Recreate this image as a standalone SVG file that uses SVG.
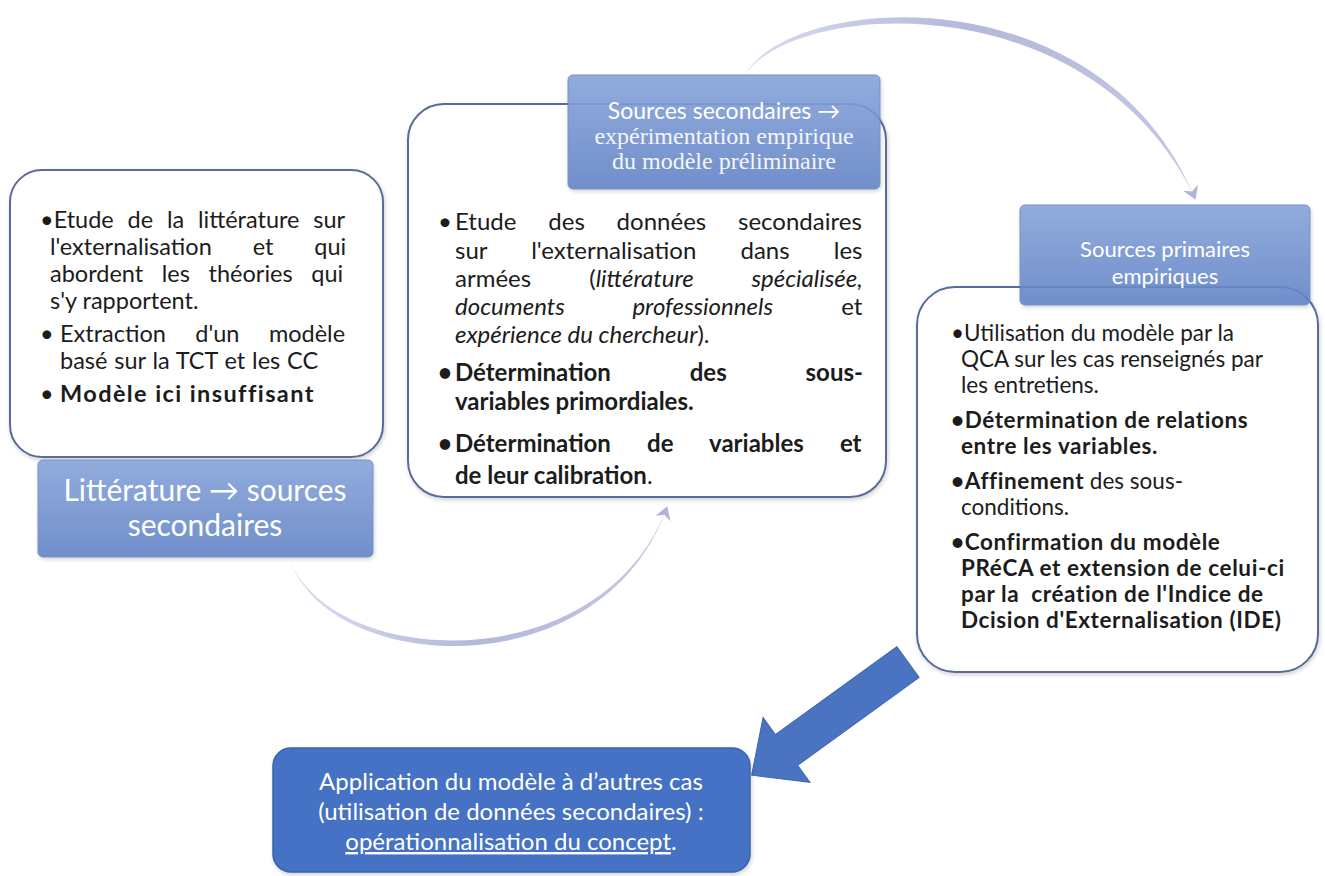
<svg xmlns="http://www.w3.org/2000/svg" width="1325" height="876" viewBox="0 0 1325 876">
<defs>
<linearGradient id="lbl" x1="0" y1="0" x2="0" y2="1">
<stop offset="0" stop-color="#86a3d9"/>
<stop offset="1" stop-color="#6283c6"/>
</linearGradient>
<linearGradient id="arcg" x1="0" y1="0" x2="1" y2="0">
<stop offset="0" stop-color="#d9dcef"/>
<stop offset="0.5" stop-color="#b4b8da"/>
<stop offset="1" stop-color="#c4c7e4"/>
</linearGradient>
<filter id="sh" x="-10%" y="-10%" width="120%" height="120%">
<feDropShadow dx="1" dy="2" stdDeviation="2" flood-color="#000" flood-opacity="0.18"/>
</filter>
<marker id="ah" markerWidth="20" markerHeight="20" refX="9" refY="10" orient="auto" markerUnits="userSpaceOnUse">
<path d="M0,2 L13,10 L0,18 L4,10 Z" fill="#b0b4d6"/>
</marker>
<style>
.box{fill:#fff;stroke:#5a6a9a;stroke-width:2;filter:url(#sh)}
.lbl{fill:url(#lbl);stroke:#6a86c2;stroke-width:1;opacity:0.9;filter:url(#sh)}
.t{font-family:Lato,"Liberation Sans",sans-serif;fill:#1c1c1c}
.lt{font-family:Lato,"Liberation Sans",sans-serif;fill:#fff;text-anchor:middle}
.sf{font-family:"Liberation Serif","DejaVu Serif",serif;fill:#f4f6fb;text-anchor:middle}
.b{font-weight:bold}
.i{font-style:italic}
.arc{fill:url(#arcg);stroke:none}
.guide{fill:none;stroke:none}
</style>
</defs>
<rect width="1325" height="876" fill="#fff"/>

<g id="connectors">
<path class="arc" d="M290,560 C330,675 600,690 666,510 C598,682 332,668 290,560 Z"/>
<path class="guide" d="M290,560 C330,675 600,690 666,510" marker-end="url(#ah)"/>
<path class="arc" d="M745,75 C790,-8 1100,-28 1194,196 C1090,-18 795,0 745,75 Z"/>
<path class="guide" d="M745,75 C790,-8 1100,-28 1194,196" marker-end="url(#ah)"/>
<polygon transform="translate(908,662) rotate(144.1)" points="0,-19 150,-19 150,-40 193,0 150,40 150,19 0,19" fill="#4a73c2" stroke="#3f66b0" stroke-width="1"/>
</g>

<g id="node-litterature">
<rect class="box" x="10" y="170" width="373" height="287" rx="32"/>
<g class="t" font-size="23.5">
<text x="40" y="228" word-spacing="7.8">•Etude de la littérature sur</text>
<text x="50" y="255" word-spacing="34.9">l'externalisation et qui</text>
<text x="50" y="282" word-spacing="12.6">abordent les théories qui</text>
<text x="50" y="309">s'y rapportent.</text>
<text x="40" y="342">•</text>
<text x="60" y="342" word-spacing="23.4">Extraction d'un modèle</text>
<text x="60" y="369" word-spacing="0.8">basé sur la TCT et les CC</text>
<text x="40" y="402">•</text>
<text x="60" y="402" class="b" letter-spacing="1.4">Modèle ici insuffisant</text>
</g>
<rect class="lbl" x="38" y="460" width="335" height="97" rx="5"/>
<text class="lt" x="205" y="501" font-size="30">Littérature  → sources</text>
<text class="lt" x="205" y="536" font-size="30">secondaires</text>
</g>

<g id="node-secondaires">
<rect class="box" x="408" y="104" width="478" height="393" rx="36"/>
<rect class="lbl" x="568" y="75" width="312" height="114" rx="5"/>
<text class="lt" x="724" y="119" font-size="23">Sources secondaires →</text>
<text class="sf" x="724" y="144" font-size="24">expérimentation empirique</text>
<text class="sf" x="724" y="169" font-size="24">du modèle préliminaire</text>
<g class="t" font-size="24">
<text x="438" y="230">•</text>
<text x="455" y="230" word-spacing="25.7">Etude des données secondaires</text>
<text x="455" y="259" word-spacing="38">sur l'externalisation dans les</text>
<text x="455" y="287" word-spacing="52">armées (<tspan class="i">littérature spécialisée,</tspan></text>
<text x="455" y="315" word-spacing="62"><tspan class="i">documents professionnels</tspan> et</text>
<text x="455" y="343"><tspan class="i">expérience du chercheur</tspan>).</text>
<text x="438" y="381" class="b">•</text>
<text x="455" y="381" class="b" word-spacing="73">Détermination des sous-</text>
<text x="455" y="410" class="b">variables primordiales.</text>
<text x="438" y="452" class="b">•</text>
<text x="455" y="452" class="b" word-spacing="30.3">Détermination de variables et</text>
<text x="455" y="484"><tspan class="b">de leur calibration</tspan>.</text>
</g>
</g>

<g id="node-primaires">
<rect class="box" x="917" y="287" width="401" height="385" rx="38"/>
<rect class="lbl" x="1020" y="205" width="290" height="100" rx="5"/>
<text class="lt" x="1165" y="257" font-size="22">Sources primaires</text>
<text class="lt" x="1165" y="284" font-size="22">empiriques</text>
<g class="t" font-size="22.5">
<text x="951" y="341">•Utilisation du modèle par la</text>
<text x="961" y="367">QCA sur les cas renseignés par</text>
<text x="961" y="393">les entretiens.</text>
<text x="951" y="428" class="b" letter-spacing="0.6">•Détermination de relations</text>
<text x="961" y="454" class="b" letter-spacing="0.6">entre les variables.</text>
<text x="951" y="489"><tspan class="b" letter-spacing="0.6">•Affinement</tspan> des sous-</text>
<text x="961" y="515">conditions.</text>
<text x="951" y="550" class="b" letter-spacing="0.6">•Confirmation du modèle</text>
<text x="961" y="576" class="b" letter-spacing="0.6">PRéCA et extension de celui-ci</text>
<text x="961" y="602" class="b" letter-spacing="0.6">par la&#160; création de l'Indice de</text>
<text x="961" y="628" class="b" letter-spacing="0.6">Dcision d'Externalisation (IDE)</text>
</g>
</g>

<g id="node-application">
<rect x="273" y="748" width="477" height="124" rx="18" fill="#4472c4" stroke="#3a62ad" stroke-width="1.5" filter="url(#sh)"/>
<g class="lt" font-size="24">
<text x="511" y="790">Application du modèle à d’autres cas</text>
<text x="511" y="820">(utilisation de données secondaires) :</text>
<text x="511" y="850"><tspan text-decoration="underline">opérationnalisation du concept</tspan>.</text>
</g>
</g>
</svg>
